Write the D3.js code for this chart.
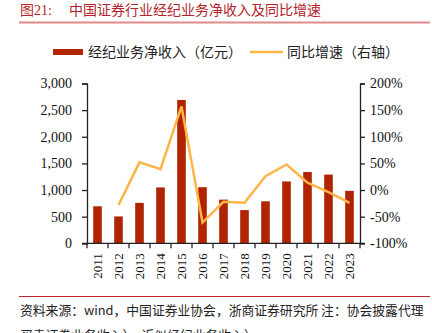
<!DOCTYPE html>
<html><head><meta charset="utf-8">
<script src="https://cdn.jsdelivr.net/npm/d3@7"></script>
<style>
html,body{margin:0;padding:0;background:#fff;}
svg{display:block;}
text{font-family:"Liberation Serif","Noto Sans CJK SC",serif;}
.cjk{font-family:"Noto Sans CJK SC","Liberation Serif",sans-serif;}
</style></head>
<body>
<script>
const years = ["2011","2012","2013","2014","2015","2016","2017","2018","2019","2020","2021","2022","2023"];
const income = [695, 504, 759, 1049, 2691, 1053, 820, 623, 788, 1161, 1338, 1290, 985];
const yoy = [null, -28, 52, 39, 157, -61, -22, -24, 26, 48, 14, -4, -24];
const leftTicks = [0, 500, 1000, 1500, 2000, 2500, 3000];
const rightTicks = [-100, -50, 0, 50, 100, 150, 200];

const W = 432, H = 333;
const svg = d3.select("body").append("svg").attr("width", W).attr("height", H);

// Title
svg.append("text").attr("x", 20).attr("y", 15).attr("fill", "#B5232C")
  .attr("font-size", 14).text("图21:");
svg.append("text").attr("class","cjk").attr("x", 69).attr("y", 15).attr("fill", "#B5232C")
  .attr("font-size", 14).text("中国证券行业经纪业务净收入及同比增速");
svg.append("line").attr("x1", 19).attr("x2", 430).attr("y1", 22.5).attr("y2", 22.5)
  .attr("stroke", "#E08A8A").attr("stroke-width", 2);

// Legend
svg.append("rect").attr("x", 53).attr("y", 49).attr("width", 30).attr("height", 6).attr("fill", "#B02400");
svg.append("text").attr("class","cjk").attr("x", 88).attr("y", 57).attr("font-size", 14).attr("fill","#222")
  .text("经纪业务净收入（亿元）");
svg.append("line").attr("x1", 250).attr("x2", 283).attr("y1", 52).attr("y2", 52)
  .attr("stroke", "#FFB547").attr("stroke-width", 2.5);
svg.append("text").attr("class","cjk").attr("x", 287).attr("y", 57).attr("font-size", 14).attr("fill","#222")
  .text("同比增速（右轴）");

// Scales
const x = d3.scaleBand().domain(years).range([87, 360]).paddingInner(0.59).paddingOuter(0.295);
const xb = d3.scaleBand().domain(years).range([87, 360]);
const yL = d3.scaleLinear().domain([0, 3000]).range([243.3, 83.5]);
const yR = d3.scaleLinear().domain([-100, 200]).range([243.3, 83.5]);

// Bars
svg.append("g").selectAll("rect").data(years).join("rect")
  .attr("x", d => x(d)).attr("width", x.bandwidth())
  .attr("y", (d,i) => yL(income[i])).attr("height", (d,i) => yL(0) - yL(income[i]))
  .attr("fill", "#B02400");

// Line
const line = d3.line()
  .defined(d => d.v !== null)
  .x(d => xb(d.y) + xb.bandwidth()/2)
  .y(d => yR(d.v));
svg.append("path").datum(years.map((y,i) => ({y, v: yoy[i]})))
  .attr("d", line).attr("fill", "none").attr("stroke", "#FFB547").attr("stroke-width", 2.5)
  .attr("stroke-linejoin", "miter");

// Axes
const gL = svg.append("g").attr("transform", "translate(87,0)")
  .call(d3.axisLeft(yL).tickValues(leftTicks).tickFormat(d3.format(",")).tickSize(5).tickPadding(10));
const gR = svg.append("g").attr("transform", "translate(360,0)")
  .call(d3.axisRight(yR).tickValues(rightTicks).tickFormat(d => d + "%").tickSize(5).tickPadding(5));
[gL, gR].forEach(g => {
  g.select(".domain").attr("stroke", "#222").attr("stroke-width", 1.3);
  g.selectAll(".tick line").attr("stroke", "#222").attr("stroke-width", 1.3);
  g.selectAll(".tick text").attr("font-family", "Liberation Serif").attr("font-size", 14).attr("fill", "#111");
});

// X axis
const gX = svg.append("g").attr("transform", "translate(0,243.3)");
gX.append("line").attr("x1", 82).attr("x2", 365).attr("stroke", "#222").attr("stroke-width", 1.3);
gX.selectAll(".xt").data(years.concat(["end"])).join("line").attr("class","xt")
  .attr("x1", d => d === "end" ? 360 : xb(d)).attr("x2", d => d === "end" ? 360 : xb(d))
  .attr("y1", 0).attr("y2", 5).attr("stroke", "#222").attr("stroke-width", 1.3);
gX.selectAll(".xl").data(years).join("text").attr("class","xl")
  .attr("transform", d => `translate(${xb(d) + xb.bandwidth()/2 + 4.5},10) rotate(-90)`)
  .attr("text-anchor", "end").attr("font-family", "Liberation Serif").attr("font-size", 13).attr("fill", "#111")
  .text(d => d);

// Footer
svg.append("line").attr("x1", 19).attr("x2", 430).attr("y1", 296.5).attr("y2", 296.5)
  .attr("stroke", "#C0262D").attr("stroke-width", 1.2);
svg.append("text").attr("class","cjk").attr("x", 20).attr("y", 315).attr("font-size", 12.8).attr("fill", "#222")
  .text("资料来源：wind，中国证券业协会，浙商证券研究所 注：协会披露代理");
svg.append("text").attr("class","cjk").attr("x", 20).attr("y", 340).attr("font-size", 12.8).attr("fill", "#222")
  .text("买卖证券业务收入），近似经纪业务收入）");
</script>
</body></html>
